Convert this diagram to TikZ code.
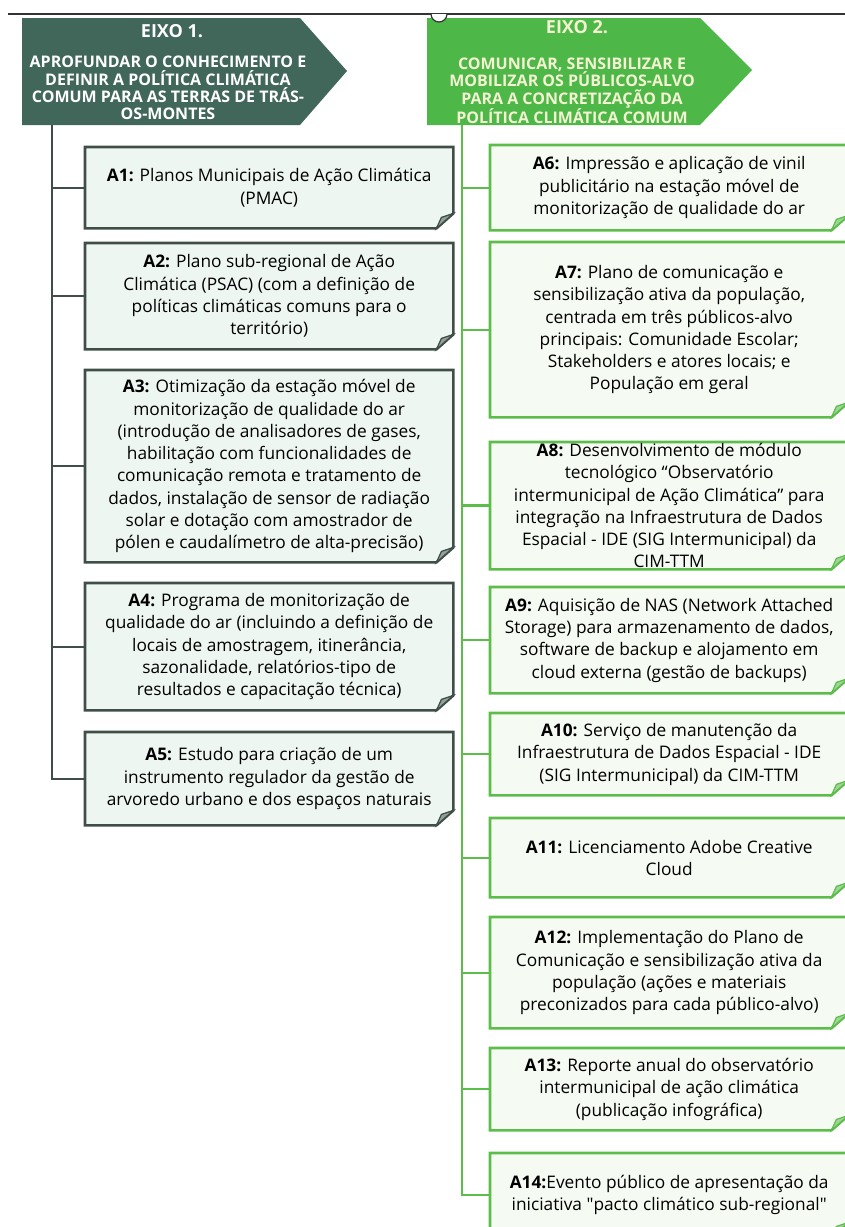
\documentclass[tikz,border=0pt]{standalone}
\usepackage{fontspec}
\setmainfont{Open Sans}
\usetikzlibrary{backgrounds}

\definecolor{eixoum}{HTML}{41665A}
\definecolor{eixodois}{HTML}{4DB848}
\definecolor{linhaum}{HTML}{3F4F48}
\definecolor{linhadois}{HTML}{5CBD4B}
\definecolor{fundoum}{HTML}{EEF6F1}
\definecolor{fundodois}{HTML}{F5FBF2}
\definecolor{creme}{HTML}{F4F2D2}

\tikzset{
  cabeca/.style={align=center, font=\bfseries\fontsize{16}{17.3}\selectfont, inner sep=0pt},
  titulo/.style={font=\bfseries\fontsize{18}{18}\selectfont, inner sep=0pt},
  acao/.style={anchor=north west, align=center, inner sep=1pt,
    font=\fontsize{17.3}{22.3}\selectfont},
  acaoum/.style={acao, minimum width=368pt},
  acaodois/.style={acao, minimum width=358pt},
  molduraum/.style={draw=linhaum, fill=fundoum, line width=2.6pt, line join=miter},
  molduradois/.style={draw=linhadois, fill=fundodois, line width=2.6pt, line join=miter},
  dobraum/.style={draw=linhaum, fill=linhaum!55, line width=1.2pt},
  dobradois/.style={draw=linhadois, fill=linhadois!60, line width=1.2pt},
  troncoum/.style={draw=linhaum, line width=2.4pt},
  troncodois/.style={draw=linhadois, line width=2.4pt}
}

\begin{document}
\begin{tikzpicture}[x=1pt,y=-1pt]
  \useasboundingbox (0,0) rectangle (845,1227);

  % cabecalhos dos eixos
  \fill[eixoum] (22,18) -- (300,18) -- (347,71) -- (300,125) -- (22,125) -- cycle;
  \fill[eixodois] (427,18) -- (700,18) -- (752,70) -- (700,125) -- (427,125) -- cycle;
  \draw[line width=1.4pt, black!80] (8,14) -- (845,14);
  \filldraw[fill=white, draw=black!80, line width=1.2pt] (431,14) arc[start angle=180, end angle=360, radius=8pt];

  \node[titulo, text=white] (eixo1) at (172,31) {EIXO 1.};
  \node[cabeca, text=white] (tema1) at (168,88) {APROFUNDAR O CONHECIMENTO E\\DEFINIR A POLÍTICA CLIMÁTICA\\COMUM PARA AS TERRAS DE TRÁS-\\OS-MONTES};
  \node[titulo, text=creme] (eixo2) at (577,27) {EIXO 2.};
  \node[cabeca, text=creme] (tema2) at (572,91) {COMUNICAR, SENSIBILIZAR E\\MOBILIZAR OS PÚBLICOS-ALVO\\PARA A CONCRETIZAÇÃO DA\\POLÍTICA CLIMÁTICA COMUM};

  \coordinate (r1) at (52,125);
  \coordinate (r2) at (462,125);

  \begin{scope}[every node/.style={acaoum}]
    \node[minimum height=81pt] (a1) at (85,147) {\textbf{A1:} Planos Municipais de Ação Climática\\(PMAC)};
    \node[minimum height=106pt] (a2) at (85,243) {\textbf{A2:} Plano sub-regional de Ação\\Climática (PSAC) (com a definição de\\políticas climáticas comuns para o\\território)};
    \node[minimum height=192pt] (a3) at (85,370) {\textbf{A3:} Otimização da estação móvel de\\monitorização de qualidade do ar\\(introdução de analisadores de gases,\\habilitação com funcionalidades de\\comunicação remota e tratamento de\\dados, instalação de sensor de radiação\\solar e dotação com amostrador de\\pólen e caudalímetro de alta-precisão)};
    \node[minimum height=127pt] (a4) at (85,583) {\textbf{A4:} Programa de monitorização de\\qualidade do ar (incluindo a definição de\\locais de amostragem, itinerância,\\sazonalidade, relatórios-tipo de\\resultados e capacitação técnica)};
    \node[minimum height=93pt] (a5) at (85,732) {\textbf{A5:} Estudo para criação de um\\instrumento regulador da gestão de\\arvoredo urbano e dos espaços naturais};
  \end{scope}

  \begin{scope}[every node/.style={acaodois}]
    \node[minimum height=85pt] (a6) at (490,145) {\textbf{A6:} Impressão e aplicação de vinil\\publicitário na estação móvel de\\monitorização de qualidade do ar};
    \node[minimum height=175pt] (a7) at (490,242) {\textbf{A7:} Plano de comunicação e\\sensibilização ativa da população,\\centrada em três públicos-alvo\\principais: Comunidade Escolar;\\Stakeholders e atores locais; e\\População em geral};
    \node[minimum height=125pt] (a8) at (490,442) {\textbf{A8:} Desenvolvimento de módulo\\tecnológico “Observatório\\intermunicipal de Ação Climática” para\\integração na Infraestrutura de Dados\\Espacial - IDE (SIG Intermunicipal) da\\CIM-TTM};
    \node[minimum height=106pt] (a9) at (490,587) {\textbf{A9:} Aquisição de NAS (Network Attached\\Storage) para armazenamento de dados,\\software de backup e alojamento em\\cloud externa (gestão de backups)};
    \node[minimum height=82pt] (a10) at (490,713) {\textbf{A10:} Serviço de manutenção da\\Infraestrutura de Dados Espacial - IDE\\(SIG Intermunicipal) da CIM-TTM};
    \node[minimum height=79pt] (a11) at (490,818) {\textbf{A11:} Licenciamento Adobe Creative\\Cloud};
    \node[minimum height=111pt] (a12) at (490,917) {\textbf{A12:} Implementação do Plano de\\Comunicação e sensibilização ativa da\\população (ações e materiais\\preconizados para cada público-alvo)};
    \node[minimum height=82pt] (a13) at (490,1048) {\textbf{A13:} Reporte anual do observatório\\intermunicipal de ação climática\\(publicação infográfica)};
    \node[minimum height=84pt] (a14) at (490,1153) {\textbf{A14:}Evento público de apresentação da\\iniciativa \textquotedbl pacto climático sub-regional\textquotedbl};
  \end{scope}

  \begin{scope}[on background layer]
    \foreach \n in {a1,a2,a3,a4,a5} {
      \filldraw[molduraum] (\n.north west) -- (\n.north east) -- ([yshift=15pt]\n.south east)
        -- ([xshift=-17pt]\n.south east) -- (\n.south west) -- cycle;
      \filldraw[dobraum] ([yshift=15pt]\n.south east) -- ([xshift=-17pt]\n.south east)
        -- ([xshift=-12pt,yshift=11pt]\n.south east) -- cycle;
    }
    \foreach \n in {a6,a7,a8,a9,a10,a11,a12,a13,a14} {
      \filldraw[molduradois] (\n.north west) -- (\n.north east) -- ([yshift=15pt]\n.south east)
        -- ([xshift=-17pt]\n.south east) -- (\n.south west) -- cycle;
      \filldraw[dobradois] ([yshift=15pt]\n.south east) -- ([xshift=-17pt]\n.south east)
        -- ([xshift=-12pt,yshift=11pt]\n.south east) -- cycle;
    }
  \end{scope}

  % ramos
  \draw[troncoum] (r1) |- (a5.west);
  \draw[troncoum] (r1 |- a1.west) -- (a1.west);
  \draw[troncoum] (r1 |- a2.west) -- (a2.west);
  \draw[troncoum] (r1 |- a3.west) -- (a3.west);
  \draw[troncoum] (r1 |- a4.west) -- (a4.west);

  \draw[troncodois] (r2) |- (a14.west);
  \draw[troncodois] (r2 |- a6.west) -- (a6.west);
  \draw[troncodois] (r2 |- a7.west) -- (a7.west);
  \draw[troncodois] (r2 |- a8.west) -- (a8.west);
  \draw[troncodois] (r2 |- a9.west) -- (a9.west);
  \draw[troncodois] (r2 |- a10.west) -- (a10.west);
  \draw[troncodois] (r2 |- a11.west) -- (a11.west);
  \draw[troncodois] (r2 |- a12.west) -- (a12.west);
  \draw[troncodois] (r2 |- a13.west) -- (a13.west);

\end{tikzpicture}
\end{document}
